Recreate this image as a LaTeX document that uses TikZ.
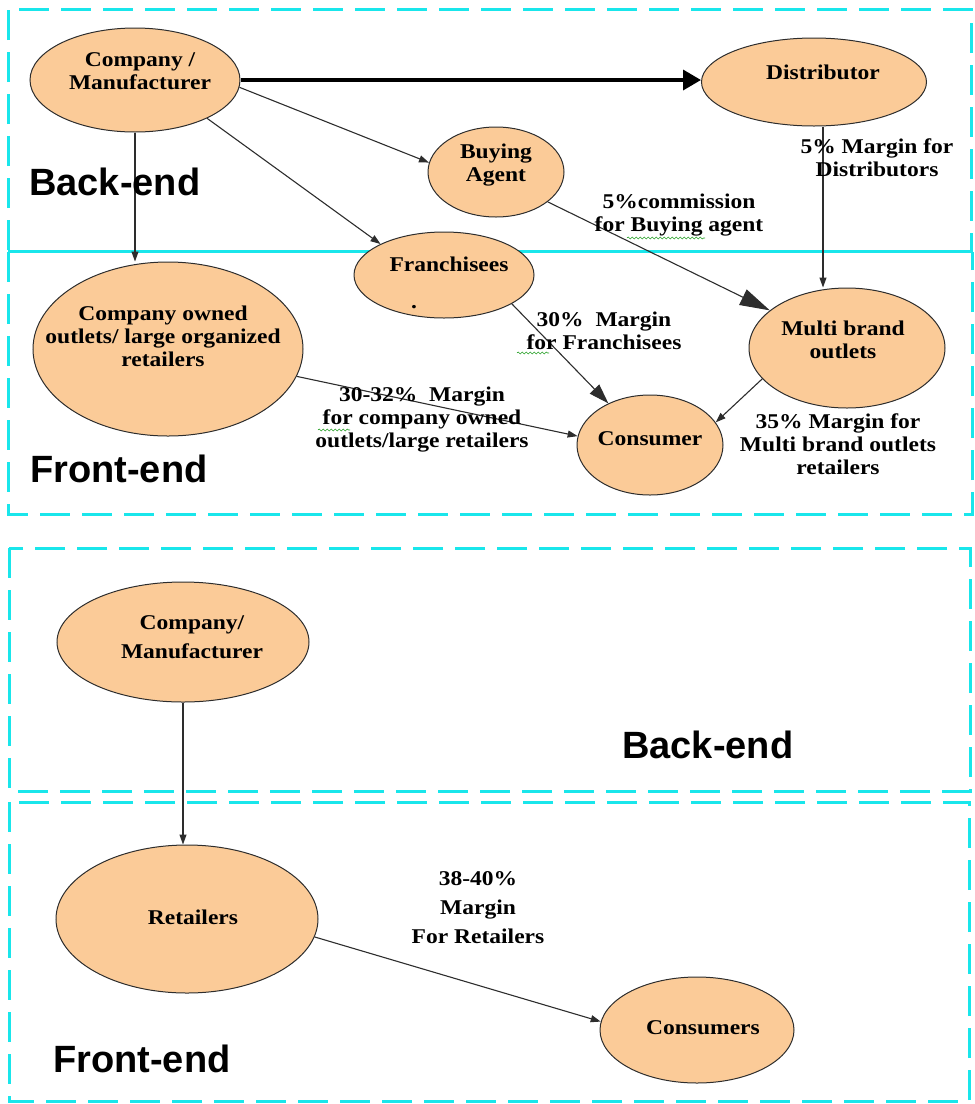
\documentclass[tikz,border=0pt]{standalone}
\usepackage{fontspec}
\setmainfont{Liberation Serif}
\newfontfamily\labelsans{Liberation Sans}
\newfontfamily\boxserif[FakeStretch=1.12]{Liberation Serif}
\usetikzlibrary{shapes.geometric,arrows.meta,decorations.pathmorphing}

\definecolor{peach}{RGB}{251,203,152}
\definecolor{boxcyan}{RGB}{25,230,235}
\definecolor{edgegray}{RGB}{45,45,45}
\definecolor{spellgreen}{RGB}{40,160,40}

\begin{document}
\begin{tikzpicture}[x=1pt,y=-1pt,
  blob/.style={ellipse, draw=edgegray, line width=1pt, fill=peach, inner sep=0pt},
  ntext/.style={font=\boxserif\bfseries\fontsize{21}{23}\selectfont, align=center, inner sep=0pt},
  wtext/.style={font=\boxserif\bfseries\fontsize{21}{29}\selectfont, align=center, inner sep=0pt},
  zone/.style={font=\labelsans\bfseries\fontsize{38}{40}\selectfont, anchor=base west, inner sep=0pt},
  flow/.style={draw=edgegray, line width=1.1pt, -{Triangle[length=10pt,width=7pt]}},
  frame/.style={draw=boxcyan, line width=3pt, dash pattern=on 30pt off 12pt},
  squiggle/.style={draw=spellgreen, line width=0.6pt, decorate, decoration={snake, amplitude=1pt, segment length=4pt}},
]
\useasboundingbox (0,0) rectangle (975,1104);

% ---------- zone frames ----------
\draw[frame] (8,250) -- (8,9) -- (971,9) -- (971,250);
\draw[frame] (8,252) -- (8,514) -- (972,514) -- (972,252);
\draw[draw=boxcyan, line width=3pt] (8,251) -- (973,251);
\draw[frame] (9,548) rectangle (970,791);
\draw[frame] (9,802) rectangle (969,1101);

% ---------- upper diagram: nodes ----------
\node[blob, minimum width=210pt, minimum height=104pt] (cm) at (135,80) {};
\node[ntext] at (140,71) {Company /\\Manufacturer};

\node[blob, minimum width=225pt, minimum height=88pt] (dist) at (814,82) {};
\node[ntext] at (823,72) {Distributor};

\node[blob, minimum width=136pt, minimum height=90pt] (buy) at (496,172) {};
\node[ntext] at (496,165) {Buying\\Agent};

\node[blob, minimum width=180pt, minimum height=86pt] (fr) at (444,275) {};
\node[ntext] at (449,264) {Franchisees};
\node[ntext, anchor=base] at (414,308) {.};

\node[blob, minimum width=270pt, minimum height=174pt] (ow) at (168,349) {};
\node[ntext] at (163,336) {Company owned\\outlets/ large organized\\retailers};

\node[blob, minimum width=196pt, minimum height=120pt] (mb) at (847,348) {};
\node[ntext] at (843,340) {Multi brand\\outlets};

\node[blob, minimum width=146pt, minimum height=100pt] (cons) at (650,445) {};
\node[ntext] at (650,439) {Consumer};

% ---------- upper diagram: connectors ----------
\draw[draw=black, line width=3.5pt, -{Triangle[length=18pt,width=20pt]}] (cm.east) -- (cm.east -| dist.west);
\draw[flow] (cm.-4) -- (buy.172);
\draw[flow] (cm.-28) -- (fr.154);
\draw[flow] (cm.south) -- (cm.south |- ow.north);
\draw[draw=edgegray, line width=1.1pt, -{Triangle[length=30pt,width=17pt]}] (buy.-30) -- (mb.154);
\draw[flow] ([xshift=9pt]dist.south) -- ([xshift=9pt]dist.south |- mb.north);
\draw[draw=edgegray, line width=1.1pt, -{Triangle[length=20pt,width=13pt]}] (fr.-23) -- (cons.135);
\draw[flow] (ow.-12) -- (cons.173);
\draw[flow] (mb.200) -- (cons.19);

% ---------- upper diagram: margin notes ----------
\node[ntext] (n1) at (877,158) {5\% Margin for\\Distributors};
\node[ntext] (n2) at (679,215) {5\%commission\\for Buying agent};
\node[ntext] (n3) at (604,331) {30\%\ \ Margin\\for Franchisees};
\node[ntext] (n4) at (422,420) {30-32\%\ \ Margin\\for company owned\\outlets/large retailers};
\node[ntext] (n5) at (838,444) {35\% Margin for\\Multi brand outlets\\retailers};

\draw[squiggle] (627,238) -- (705,238);
\draw[squiggle] (517,353) -- (549,353);
\draw[squiggle] (318,430) -- (350,430);

\node[zone] at (29,195) {Back-end};
\node[zone] at (30,482) {Front-end};

% ---------- lower diagram ----------
\node[blob, minimum width=252pt, minimum height=120pt] (cm2) at (183,642) {};
\node[wtext] at (192,637) {Company/\\Manufacturer};

\node[blob, minimum width=262pt, minimum height=148pt] (ret) at (187,919) {};
\node[ntext] at (193,917) {Retailers};

\node[blob, minimum width=194pt, minimum height=106pt] (cons2) at (697,1030) {};
\node[ntext] at (703,1028) {Consumers};

\draw[flow] (cm2.south) -- (cm2.south |- ret.north);
\draw[flow] (ret.-8) -- (cons2.175);

\node[wtext] (n6) at (478,908) {38-40\%\\Margin\\For Retailers};

\node[zone] at (622,758) {Back-end};
\node[zone] at (53,1072) {Front-end};
\end{tikzpicture}
\end{document}
